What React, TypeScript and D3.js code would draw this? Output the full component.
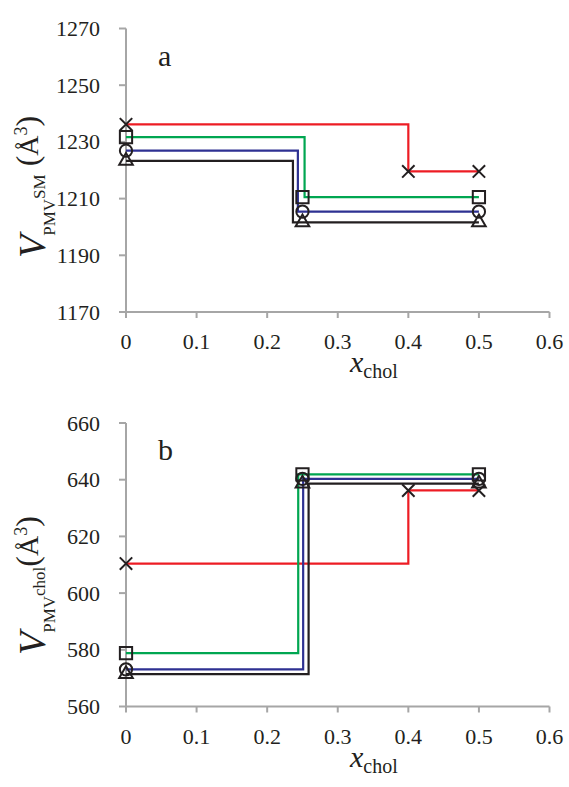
import React from 'react';
import * as d3 from 'd3';

// ---------- data ----------
const xTicks = [0, 0.1, 0.2, 0.3, 0.4, 0.5, 0.6];
const xTickLabels = ['0', '0.1', '0.2', '0.3', '0.4', '0.5', '0.6'];
const topYTicks = [1170, 1190, 1210, 1230, 1250, 1270];
const bottomYTicks = [560, 580, 600, 620, 640, 660];

const seriesColors = ['#ed1c24', '#00a651', '#2e3192', '#231f20'];
const seriesMarkers = ['x', 'square', 'circle', 'triangle'];
const redMarkerX = [0, 0.4, 0.5];
const otherMarkerX = [0, 0.25, 0.5];

// panel a: V_PMV^SM
const topRed = [1236.2, 1219.6, 1219.6];
const topGreen = [1231.7, 1210.5, 1210.5];
const topBlue = [1226.9, 1205.4, 1205.4];
const topBlack = [1223.3, 1201.6, 1201.6];
const topStepX = [0.4, 0.253, 0.2435, 0.2365];

// panel b: V_PMV^chol
const botRed = [610.4, 636.2, 636.2];
const botGreen = [578.8, 641.9, 641.9];
const botBlue = [573.1, 640.3, 640.3];
const botBlack = [571.4, 638.6, 638.6];
const botStepX = [0.4, 0.244, 0.251, 0.2587];

const FONT = "'Liberation Serif', 'Times New Roman', serif";
const AXIS = '#a6a6a6';
const MARK = '#231f20';

function Marker({ kind, x, y }: { kind: string; x: number; y: number }) {
  const common = { fill: 'none', stroke: MARK, strokeWidth: 2 };
  if (kind === 'x') {
    const p = d3.path();
    const r = 6.2;
    p.moveTo(-r, -r); p.lineTo(r, r); p.moveTo(-r, r); p.lineTo(r, -r);
    return <path d={p.toString()} transform={`translate(${x},${y})`} {...common} />;
  }
  const type = kind === 'square' ? d3.symbolSquare : kind === 'circle' ? d3.symbolCircle : d3.symbolTriangle;
  const size = kind === 'square' ? 150 : kind === 'circle' ? 118 : 80;
  const d = d3.symbol().type(type).size(size)() as string;
  return <path d={d} transform={`translate(${x},${y})`} {...common} />;
}

function Panel({
  top, yDomain, yTicks, series, stepX, letter, title,
}: {
  top: number; yDomain: [number, number]; yTicks: number[];
  series: number[][]; stepX: number[]; letter: string; title: React.ReactNode;
}) {
  const x = d3.scaleLinear().domain([0, 0.6]).range([126, 549.5]);
  const y = d3.scaleLinear().domain(yDomain).range([top + 283.5, top]);
  const y0 = y(yDomain[0]);
  const line = d3.line<[number, number]>().x(d => x(d[0])).y(d => y(d[1]));
  return (
    <g>
      {/* axes */}
      <line x1={x(0)} x2={x(0)} y1={y(yDomain[1])} y2={y0} stroke={AXIS} strokeWidth={2} />
      <line x1={x(0)} x2={x(0.6)} y1={y0} y2={y0} stroke={AXIS} strokeWidth={2} />
      {yTicks.map(t => (
        <g key={'y' + t}>
          <line x1={x(0) - 7} x2={x(0)} y1={y(t)} y2={y(t)} stroke={AXIS} strokeWidth={2} />
          <text x={100} y={y(t)} textAnchor="end" dominantBaseline="central" fontSize={22} fontFamily={FONT} fill="#231f20">{t}</text>
        </g>
      ))}
      {xTicks.map((t, i) => (
        <g key={'x' + t}>
          <line x1={x(t)} x2={x(t)} y1={y0} y2={y0 + 6} stroke={AXIS} strokeWidth={2} />
          <text x={x(t)} y={y0 + 37} textAnchor="middle" fontSize={22} fontFamily={FONT} fill="#231f20">{xTickLabels[i]}</text>
        </g>
      ))}
      {/* step lines */}
      {series.map((vals, i) => {
        const pts: [number, number][] = [[0, vals[0]], [stepX[i], vals[0]], [stepX[i], vals[1]], [0.5, vals[2]]];
        return <path key={'l' + i} d={line(pts) as string} fill="none" stroke={seriesColors[i]} strokeWidth={2.2} />;
      })}
      {/* markers */}
      {series.map((vals, i) => {
        const xs = i === 0 ? redMarkerX : otherMarkerX;
        return vals.map((v, j) => <Marker key={`m${i}-${j}`} kind={seriesMarkers[i]} x={x(xs[j])} y={y(v)} />);
      })}
      <text x={158} y={top + 37} fontSize={30} fontFamily={FONT} fill="#231f20">{letter}</text>
      <text x={350} y={y0 + 60} fontFamily={FONT} fill="#231f20">
        <tspan fontStyle="italic" fontSize={30}>x</tspan>
        <tspan fontSize={20} dy={6}>chol</tspan>
      </text>
      {title}
    </g>
  );
}

function YTitle({ x, y, sup, space }: { x: number; y: number; sup: string; space: boolean }) {
  return (
    <text transform={`translate(${x},${y}) rotate(-90)`} textAnchor="start" fontFamily={FONT} fill="#231f20">
      <tspan fontStyle="italic" fontSize={38}>V</tspan>
      <tspan fontSize={17} dy={10} dx={-1}>PMV</tspan>
      <tspan fontSize={17} dy={-10}>{sup}</tspan>
      <tspan fontSize={32} dy={-7}>{space ? ' (' : '('}</tspan>
      <tspan fontSize={28}>Å</tspan>
      <tspan fontSize={18} dy={-11}>3</tspan>
      <tspan fontSize={32} dy={11}>)</tspan>
    </text>
  );
}

export default function App() {
  const topSeries = [topRed, topGreen, topBlue, topBlack];
  const botSeries = [botRed, botGreen, botBlue, botBlack];
  return (
    <div style={{ position: 'absolute', left: 0, top: 0 }}>
      <svg width={569} height={787} style={{ display: 'block', background: '#fff' }}>
        <Panel top={28.5} yDomain={[1170, 1270]} yTicks={topYTicks} series={topSeries} stepX={topStepX} letter="a"
          title={<YTitle x={45} y={258} sup="SM" space={true} />} />
        <Panel top={423} yDomain={[560, 660]} yTicks={bottomYTicks} series={botSeries} stepX={botStepX} letter="b"
          title={<YTitle x={45} y={655} sup="chol" space={false} />} />
      </svg>
    </div>
  );
}
